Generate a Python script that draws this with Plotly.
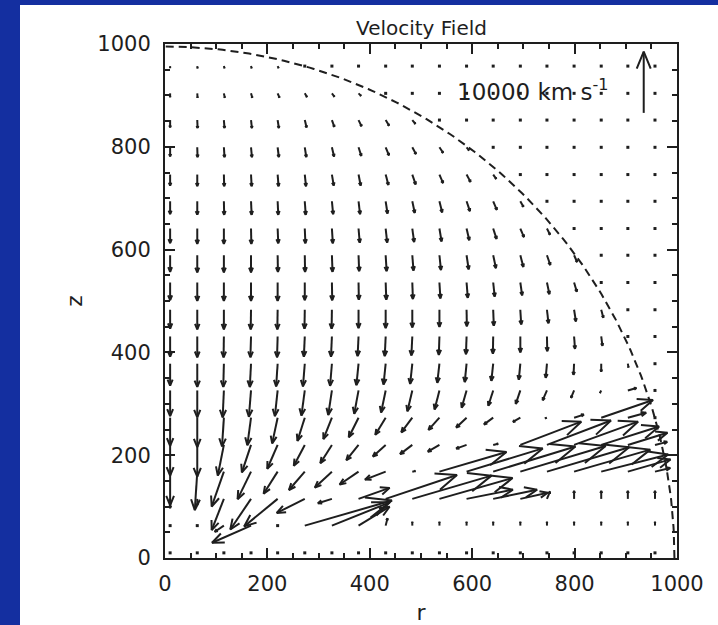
import math
import plotly.graph_objects as go

# Grid of sample points (same spacing in r and z), data units
R_GRID = [10, 63, 115, 168, 220, 273, 326, 378, 431, 483, 536, 589, 641, 694, 746, 799, 852, 904, 957]
Z_ROWS = [957, 904, 852, 799, 746, 694, 641, 589, 536, 483, 431, 378, 326, 273, 220, 168, 115, 63, 10]

# Velocity components in units of 1000 km/s; rows follow Z_ROWS (top row first)
U = [
    [0, 0.05, 0.1, 0.1, 0.15, 0, 0, 0, 0, 0, 0, 0, 0, 0, 0, 0, 0, 0, 0],
    [0, 0.05, 0.15, 0.2, 0.3, 0.35, 0.4, 0.4, 0, 0, 0, 0, 0, 0, 0, 0, 0, 0, 0],
    [0, 0.05, 0.1, 0.15, 0.2, 0.3, 0.4, 0.5, 0.55, 0.5, 0, 0, 0, 0, 0, 0, 0, 0, 0],
    [0, 0.05, 0.1, 0.15, 0.2, 0.25, 0.35, 0.45, 0.55, 0.6, 0.6, 0.4, 0, 0, 0, 0, 0, 0, 0],
    [0, 0, 0.05, 0.1, 0.15, 0.2, 0.3, 0.35, 0.45, 0.55, 0.6, 0.65, 0.5, 0, 0, 0, 0, 0, 0],
    [0, 0, 0.05, 0.1, 0.1, 0.15, 0.2, 0.25, 0.3, 0.4, 0.45, 0.55, 0.6, 0.5, 0, 0, 0, 0, 0],
    [0, 0, 0, 0.05, 0.1, 0.1, 0.15, 0.2, 0.25, 0.3, 0.35, 0.45, 0.55, 0.6, 0.5, 0, 0, 0, 0],
    [0, 0, 0, 0, 0.05, 0.05, 0.1, 0.1, 0.15, 0.2, 0.25, 0.35, 0.45, 0.5, 0.55, 0.5, 0, 0, 0],
    [0, 0, 0, 0, 0, 0, 0.05, 0.05, 0.1, 0.1, 0.15, 0.2, 0.25, 0.3, 0.4, 0.45, 0, 0, 0],
    [0, 0, 0, -0.05, -0.05, -0.05, -0.05, 0, 0, 0, 0, 0.05, 0.1, 0.15, 0.25, 0.3, 0.35, 0, 0],
    [0, 0, -0.05, -0.1, -0.1, -0.15, -0.15, -0.15, -0.15, -0.15, -0.1, -0.1, -0.05, 0, 0.05, 0.15, 0.2, 0, 0],
    [0, 0, -0.1, -0.2, -0.25, -0.3, -0.3, -0.35, -0.35, -0.35, -0.35, -0.3, -0.3, -0.25, -0.2, -0.1, 0, 0.1, 0],
    [0, 0, -0.2, -0.35, -0.45, -0.55, -0.6, -0.7, -0.75, -0.8, -0.8, -0.8, -0.8, -0.75, -0.7, -0.5, -0.2, 1.4, 0],
    [0, 0, -0.3, -0.6, -0.9, -1.2, -1.4, -1.6, -1.7, -1.8, -1.8, -1.7, -1.5, -1.2, -0.3, 1.6, 8.5, 3.0, 0],
    [0, 0, -1.0, -1.5, -1.7, -1.8, -1.9, -2.0, -2.1, -2.0, -1.9, -1.7, 0.8, 10.0, 10.5, 10.5, 9.5, 6.5, 2.0],
    [0, -0.4, -2.0, -2.2, -2.3, -2.6, -2.8, -3.1, -3.4, 0.5, 11.0, 12.5, 13.5, 14.0, 13.5, 12.5, 11.0, 7.0, 2.5],
    [0, 0, -2.0, -3.4, -5.5, -4.6, -2.3, 5.1, 11.7, 13.0, 12.0, 7.6, 7.2, 4.5, 0.5, 0, 0, 0, 0],
    [0, 0, -1.5, -6.4, 0, 14.3, 9.5, 5.1, 0.3, 0, 0, 0, 0, 0, 0, 0, 0, 0, 0],
    [0, 0, 0, 0, 0, 0, 0, 0, 0, 0, 0, 0, 0, 0, 0, 0, 0, 0, 0],
]
V = [
    [-0.3, -0.35, -0.35, -0.35, -0.3, 0, 0, 0, 0, 0, 0, 0, 0, 0, 0, 0, 0, 0, 0],
    [-0.6, -0.7, -0.7, -0.7, -0.7, -0.6, -0.55, -0.4, 0, 0, 0, 0, 0, 0, 0, 0, 0, 0, 0],
    [-1.2, -1.3, -1.3, -1.3, -1.3, -1.2, -1.1, -1.0, -0.9, -0.6, 0, 0, 0, 0, 0, 0, 0, 0, 0],
    [-1.5, -1.6, -1.6, -1.6, -1.6, -1.6, -1.5, -1.4, -1.3, -1.1, -0.9, -0.5, 0, 0, 0, 0, 0, 0, 0],
    [-1.8, -1.9, -1.9, -1.9, -1.9, -1.9, -1.8, -1.8, -1.7, -1.6, -1.4, -1.2, -0.7, 0, 0, 0, 0, 0, 0],
    [-2.1, -2.2, -2.2, -2.2, -2.2, -2.2, -2.1, -2.1, -2.0, -1.9, -1.8, -1.6, -1.4, -0.9, 0, 0, 0, 0, 0],
    [-2.4, -2.5, -2.5, -2.5, -2.4, -2.4, -2.4, -2.3, -2.3, -2.2, -2.1, -1.9, -1.7, -1.4, -1.0, 0, 0, 0, 0],
    [-2.7, -2.8, -2.8, -2.8, -2.7, -2.7, -2.7, -2.6, -2.6, -2.5, -2.4, -2.3, -2.1, -1.9, -1.6, -1.1, 0, 0, 0],
    [-2.9, -3.0, -3.0, -3.0, -3.0, -2.9, -2.9, -2.8, -2.8, -2.7, -2.6, -2.5, -2.3, -2.1, -1.9, -1.5, 0, 0, 0],
    [-3.1, -3.2, -3.2, -3.2, -3.2, -3.1, -3.1, -3.0, -3.0, -2.9, -2.8, -2.7, -2.6, -2.4, -2.2, -1.9, -1.3, 0, 0],
    [-3.3, -3.4, -3.4, -3.4, -3.4, -3.3, -3.3, -3.2, -3.2, -3.1, -3.0, -2.9, -2.8, -2.6, -2.4, -2.0, -1.5, 0, 0],
    [-3.6, -3.8, -3.8, -3.8, -3.7, -3.7, -3.6, -3.5, -3.4, -3.3, -3.1, -3.0, -2.8, -2.6, -2.3, -1.8, -1.3, -0.6, 0],
    [-4.2, -4.4, -4.4, -4.3, -4.2, -4.1, -4.0, -3.8, -3.6, -3.4, -3.1, -2.8, -2.5, -2.2, -1.6, -1.2, -0.4, 0.4, 0],
    [-4.6, -4.8, -4.7, -4.5, -4.2, -3.8, -3.5, -3.2, -2.8, -2.4, -2.0, -1.6, -1.1, -0.7, -0.1, 0.5, 2.9, 0.8, 0],
    [-5.0, -5.2, -5.0, -4.5, -3.9, -3.4, -3.0, -2.5, -1.9, -1.5, -1.1, -0.6, 0.2, 3.8, 4.0, 3.8, 3.0, 2.0, 0.5],
    [-5.5, -6.3, -5.7, -4.5, -3.6, -3.0, -2.6, -2.1, -1.3, 0.1, 3.2, 3.8, 4.1, 4.2, 4.0, 3.6, 2.8, 2.0, 0.6],
    [-1.5, -1.0, -5.1, -5.0, -4.5, -2.3, -0.7, 1.8, 3.9, 3.8, 3.4, 1.5, 1.5, 1.0, 1.2, 1.3, 1.3, 1.3, 1.3],
    [0, 0, -1.0, -2.8, 0, 4.1, 3.8, 3.1, 1.2, 0.6, 0.6, 0.6, 0.6, 0.6, 0.6, 0.6, 0.6, 0.6, 0.6],
    [0, 0, 0, 0, 0, 0, 0, 0, 0, 0, 0, 0, 0, 0, 0, 0, 0, 0, 0],
]

REF_SPEED = 10.0          # 10000 km/s key arrow
REF_POS = (935, 866)      # tail of the key arrow
SHOCK_RADIUS = 995        # dashed boundary

UNITS_PER_KKMS = 11.9     # data units of arrow length per 1000 km/s
HEAD_FRAC = 0.3           # arrow head length relative to the arrow
HEAD_ANGLE = math.radians(22.5)
INK = "#1e1e1e"
FONT = "DejaVu Sans"


def arrow_path(x0, y0, u, v):
    dx, dy = u * UNITS_PER_KKMS, v * UNITS_PER_KKMS
    x1, y1 = x0 + dx, y0 + dy
    ca, sa = math.cos(HEAD_ANGLE), math.sin(HEAD_ANGLE)
    hx1 = x1 - HEAD_FRAC * (ca * dx - sa * dy)
    hy1 = y1 - HEAD_FRAC * (ca * dy + sa * dx)
    hx2 = x1 - HEAD_FRAC * (ca * dx + sa * dy)
    hy2 = y1 - HEAD_FRAC * (ca * dy - sa * dx)
    return [x0, x1, None, hx1, x1, hx2, None], [y0, y1, None, hy1, y1, hy2, None]


ax, ay, dot_x, dot_y = [], [], [], []
for row, z in enumerate(Z_ROWS):
    for col, r in enumerate(R_GRID):
        u, v = U[row][col], V[row][col]
        if u == 0 and v == 0:
            dot_x.append(r)
            dot_y.append(z)
            continue
        px, py = arrow_path(r, z, u, v)
        ax += px
        ay += py

fig = go.Figure()

# dashed boundary circle
theta = [math.radians(t / 2) for t in range(0, 181)]
fig.add_trace(go.Scatter(
    x=[SHOCK_RADIUS * math.cos(t) for t in theta],
    y=[SHOCK_RADIUS * math.sin(t) for t in theta],
    mode="lines", line=dict(color=INK, width=2, dash="8px,5px"),
    hoverinfo="skip"))

fig.add_trace(go.Scatter(x=ax, y=ay, mode="lines",
                         line=dict(color=INK, width=2), hoverinfo="skip"))
fig.add_trace(go.Scatter(x=dot_x, y=dot_y, mode="markers",
                         marker=dict(color=INK, size=3, symbol="square"),
                         hoverinfo="skip"))

# key arrow
kx, ky = arrow_path(REF_POS[0], REF_POS[1], 0, REF_SPEED)
fig.add_trace(go.Scatter(x=kx, y=ky, mode="lines",
                         line=dict(color=INK, width=2), hoverinfo="skip"))
fig.add_annotation(x=719, y=910, xref="x", yref="y",
                   xanchor="center", yanchor="middle",
                   text="10000 km s<sup>-1</sup>", showarrow=False,
                   font=dict(family=FONT, size=23, color=INK))

fig.add_annotation(x=0.5, y=1.0, xref="paper", yref="paper",
                   xanchor="center", yanchor="bottom", yshift=2,
                   text="Velocity Field", showarrow=False,
                   font=dict(family=FONT, size=20, color=INK))

tickfont = dict(family=FONT, size=21, color=INK)
axis_common = dict(
    range=[0, 1000], tickvals=[0, 200, 400, 600, 800, 1000],
    ticks="inside", ticklen=10, tickwidth=2, tickcolor=INK,
    showline=True, linewidth=2, linecolor=INK, mirror="allticks",
    showgrid=False, zeroline=False, tickfont=tickfont, automargin=False,
    minor=dict(ticks="inside", ticklen=5, tickwidth=1.5, tickcolor=INK,
               dtick=50, showgrid=False),
)
fig.update_xaxes(**axis_common, ticklabelstandoff=6,
                 title=dict(text="r", font=dict(family=FONT, size=22, color=INK), standoff=14))
fig.update_yaxes(**axis_common, ticklabelstandoff=8,
                 title=dict(text="z", font=dict(family=FONT, size=22, color=INK), standoff=9))

# slide background: blue frame around a white sheet
fig.add_shape(type="rect", xref="paper", yref="paper", layer="below",
              x0=(0 - 165) / 512, x1=(20 - 165) / 512, y0=-0.2, y1=1.2,
              fillcolor="#142fa0", line_width=0)
fig.add_shape(type="rect", xref="paper", yref="paper", layer="below",
              x0=-0.4, x1=1.2, y0=(558 - 5) / 514, y1=1.2,
              fillcolor="#142fa0", line_width=0)

fig.update_layout(width=718, height=625, autosize=False,
                  margin=dict(l=165, r=41, t=44, b=67),
                  paper_bgcolor="white", plot_bgcolor="white",
                  showlegend=False)

fig.write_html("out.html")
